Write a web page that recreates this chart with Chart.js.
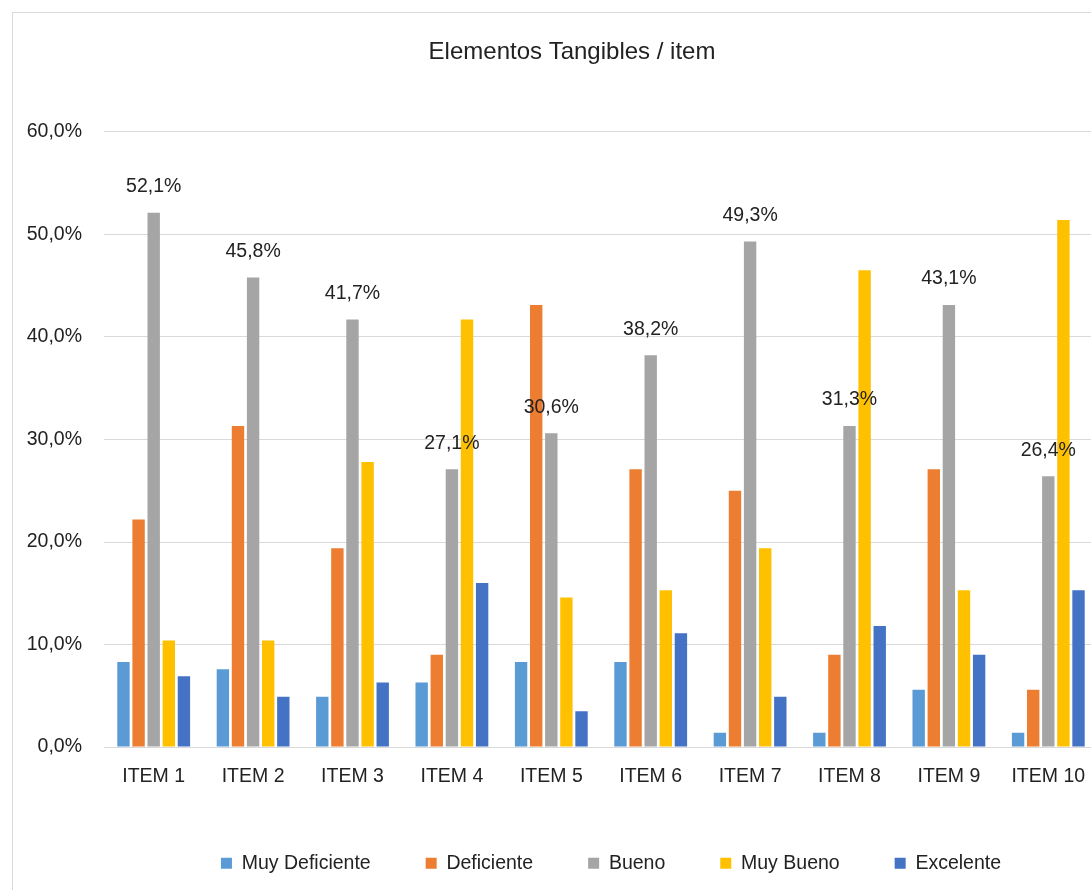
<!DOCTYPE html>
<html>
<head>
<meta charset="utf-8">
<script src="https://cdn.jsdelivr.net/npm/chart.js@4/dist/chart.umd.min.js"></script>
<style>
  html, body { margin:0; padding:0; background:#fff; overflow:hidden; width:1091px; height:890px; }
  #box { position:absolute; left:12px; top:12px; width:1118px; height:900px; border:1px solid #d9d9d9; }
</style>
</head>
<body>
<div id="box"><canvas id="chart"></canvas></div>
<script>
const categories = ['ITEM 1','ITEM 2','ITEM 3','ITEM 4','ITEM 5','ITEM 6','ITEM 7','ITEM 8','ITEM 9','ITEM 10'];
const seriesNames = ['Muy Deficiente','Deficiente','Bueno','Muy Bueno','Excelente'];
const muyDeficiente = [8.3, 7.6, 4.9, 6.3, 8.3, 8.3, 1.4, 1.4, 5.6, 1.4];
const deficiente    = [22.2, 31.3, 19.4, 9.0, 43.1, 27.1, 25.0, 9.0, 27.1, 5.6];
const bueno         = [52.1, 45.8, 41.7, 27.1, 30.6, 38.2, 49.3, 31.3, 43.1, 26.4];
const muyBueno      = [10.4, 10.4, 27.8, 41.7, 14.6, 15.3, 19.4, 46.5, 15.3, 51.4];
const excelente     = [6.9, 4.9, 6.3, 16.0, 3.5, 11.1, 4.9, 11.8, 9.0, 15.3];
const colors = ['#5b9bd5','#ed7d31','#a5a5a5','#ffc000','#4472c4'];

const fmt = v => Number(v).toFixed(1).replace('.', ',') + '%';
const FONT = 'Liberation Sans, Arial, sans-serif';

// values printed above the "Bueno" bars only
const buenoLabels = {
  id:'buenoLabels',
  afterLayout(chart){
    // title is centred on the whole chart box, not just inside the padding
    chart.titleBlock.right = chart.width;
    chart.legend.left += 10; chart.legend.right += 10;
  },
  afterDatasetsDraw(chart){
    const ctx = chart.ctx;
    const meta = chart.getDatasetMeta(2);
    ctx.save();
    ctx.font = '19.5px ' + FONT;
    ctx.fillStyle = '#222';
    ctx.textAlign = 'center';
    ctx.textBaseline = 'middle';
    meta.data.forEach((bar, i)=>{ ctx.fillText(fmt(bueno[i]), bar.x, bar.y - 26); });
    ctx.restore();
  }
};

const all = [muyDeficiente, deficiente, bueno, muyBueno, excelente];
new Chart(document.getElementById('chart'), {
  type:'bar',
  data:{
    labels: categories,
    datasets: all.map((d,i)=>({ label: seriesNames[i], data: d, backgroundColor: colors[i], borderWidth:0,
      categoryPercentage:0.76, barPercentage:0.82 }))
  },
  options:{
    responsive:true, maintainAspectRatio:false, animation:false,
    layout:{ padding:{ left:0, right:33, top:0, bottom:30 } },
    plugins:{
      title:{ display:true, text:'Elementos Tangibles / item', color:'#222',
        font:{ family:FONT, size:24, weight:'normal' }, padding:{ top:25, bottom:65 } },
      legend:{ position:'bottom', fullSize:false,
        labels:{ color:'#222', font:{ family:FONT, size:19.5 }, boxWidth:11, boxHeight:11, padding:55 } },
      tooltip:{ enabled:false }
    },
    scales:{
      x:{ grid:{ display:false }, border:{ color:'#d9d9d9' },
        ticks:{ color:'#222', font:{ family:FONT, size:19.5 }, padding:10 } },
      y:{ min:0, max:60, border:{ display:false },
        grid:{ color:'#d9d9d9', drawTicks:false },
        afterFit(scale){ scale.width = 91; },
        ticks:{ stepSize:10, color:'#222', font:{ family:FONT, size:19.5 }, padding:22, callback:v=>fmt(v) } }
    }
  },
  plugins:[buenoLabels]
});
</script>
</body>
</html>
